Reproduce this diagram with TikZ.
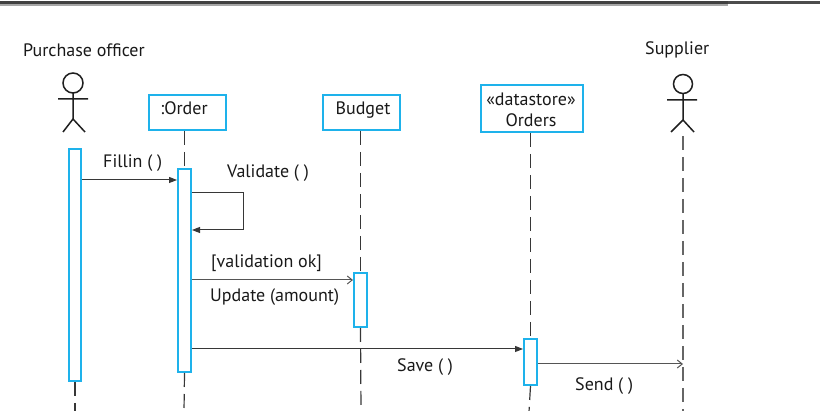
\documentclass[tikz,border=0pt]{standalone}
\usepackage{fontspec}
\setmainfont{PT Sans}
\usetikzlibrary{arrows.meta}
\definecolor{umlblue}{RGB}{30,178,235}
\definecolor{ink}{RGB}{55,55,55}
\begin{document}
\begin{tikzpicture}[x=1pt,y=-1pt,
  box/.style={draw=umlblue,line width=2pt,fill=white,inner sep=0pt},
  bar/.style={draw=umlblue,line width=2pt,fill=white,inner sep=0pt},
  life/.style={draw=ink,line width=1.2pt,dash pattern=on 14pt off 7pt},
  msg/.style={draw=ink,line width=1pt,-{Triangle[length=8pt,width=6pt]}},
  amsg/.style={draw=ink!85,line width=1pt,-{Straight Barb[length=5pt,width=8pt]}},
  lbl/.style={anchor=base west,inner sep=0pt,font=\fontsize{18}{21}\selectfont,text=black!90},
  clbl/.style={anchor=base,inner sep=0pt,font=\fontsize{18}{21}\selectfont,text=black!90},
  actor/.style={draw=black!88,line width=1.5pt}
]
\useasboundingbox (0,0) rectangle (820,411);
% top rule
\fill[black!75] (0,1) rectangle (728,4);
\fill[black!35] (0,4) rectangle (728,6);
\fill[black!70] (728,1.5) rectangle (820,4);

% actors
\node[lbl] (potitle) at (23,57) {Purchase officer};
\draw[actor] (73,83) circle (10pt);
\draw[actor] (58,99) -- (88,99) (73,93) -- (73,119) (63,132) -- (73,119) -- (85,132);
\node[lbl] (suptitle) at (645,55) {Supplier};
\draw[actor] (683,84) circle (9.5pt);
\draw[actor] (667,100) -- (697,100) (683,94) -- (683,120) (671,132) -- (683,120) -- (694,132);
\coordinate (suptop) at (683,136);
\coordinate (supbot) at (683,412);

% object boxes
\node[box,minimum width=77pt,minimum height=35pt] (order) at (187.5,112.5) {};
\node[clbl] (ordert) at (184,115) {:Order};
\node[box,minimum width=77pt,minimum height=35pt] (budget) at (361.5,112.5) {};
\node[clbl] (budgett) at (363,115) {Budget};
\node[box,minimum width=102pt,minimum height=47pt] (orders) at (532,108.5) {};
\node[clbl] (orderst1) at (531,106) {«datastore»};
\node[clbl] (orderst2) at (531,127) {Orders};

% activation bars
\node[bar,minimum width=12pt,minimum height=232pt] (a1) at (75,265) {};
\node[bar,minimum width=13pt,minimum height=203pt] (a2) at (184.5,270.5) {};
\node[bar,minimum width=13pt,minimum height=54pt] (a3) at (360.5,300) {};
\node[bar,minimum width=13pt,minimum height=46pt] (a4) at (530.5,362) {};

% lifelines
\coordinate (bot1) at (75,412);
\coordinate (bot2) at (184,412);
\coordinate (bot3) at (361,412);
\coordinate (bot4) at (529,412);
\draw[life] (a1.south) -- (bot1);
\draw[life] (order.south -| a2.north) -- (a2.north);
\draw[life] (a2.south) -- (bot2);
\draw[life] (budget.south -| a3.north) -- (a3.north);
\draw[life] (a3.south) -- (bot3);
\draw[life] (orders.south -| a4.north) -- (a4.north);
\draw[life] (a4.south) -- (bot4);
\draw[life,draw=black!60,line width=1.6pt] (suptop) -- (supbot);

% messages
\coordinate (y1) at (0,180);
\draw[msg] (a1.east |- y1) -- (a2.west |- y1);
\node[lbl] (fillin) at (103,168) {Fillin ( )};

\coordinate (y2) at (0,193);
\coordinate (y3) at (0,230);
\coordinate (loopx) at (243,0);
\draw[msg] (a2.east |- y2) -- (loopx |- y2) -- (loopx |- y3) -- (a2.east |- y3);
\node[lbl] (validate) at (227,178) {Validate ( )};

\coordinate (y4) at (0,280);
\draw[amsg] (a2.east |- y4) -- (a3.west |- y4);
\node[lbl] (guard) at (211,268) {[validation ok]};
\node[lbl] (update) at (210,302) {Update (amount)};

\coordinate (y5) at (0,349);
\draw[msg] (a2.east |- y5) -- (a4.west |- y5);
\node[lbl] (save) at (397,372) {Save ( )};

\coordinate (y6) at (0,364);
\draw[amsg] (a4.east |- y6) -- (suptop |- y6);
\node[lbl] (send) at (575,391) {Send ( )};
\end{tikzpicture}
\end{document}
